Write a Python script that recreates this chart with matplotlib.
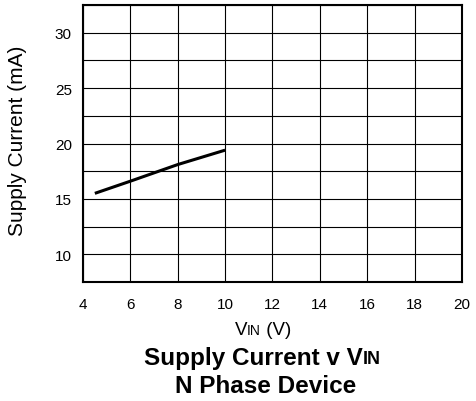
import matplotlib
matplotlib.use("Agg")
import matplotlib.pyplot as plt
import numpy as np
from matplotlib.offsetbox import TextArea, HPacker, AnchoredOffsetbox

vin = [4.5, 6, 8, 10]
current = [15.5, 16.6, 18.1, 19.4]
xticks = [4, 6, 8, 10, 12, 14, 16, 18, 20]
yticks = [10, 15, 20, 25, 30]

plt.rcParams['font.family'] = ['Liberation Sans', 'DejaVu Sans']

W, H = 477, 402
fig = plt.figure(figsize=(4.77, 4.02), dpi=100)
ax = fig.add_axes([83/W, 1 - 283/H, (462-83)/W, (283-6)/H])
ax.plot(vin, current, color='black', lw=2.2, solid_capstyle='butt')
ax.set_xlim(4, 20)
ax.set_ylim(7.5, 32.5)
ax.set_xticks(xticks)
ax.set_yticks(yticks)
ax.set_yticks(np.arange(7.5, 32.6, 2.5), minor=True)
ax.grid(True, which='both', color='black', lw=0.8)
ax.tick_params(which='both', length=0, labelsize=11)
ax.tick_params(axis='x', pad=11)
ax.tick_params(axis='y', pad=8)
for s in ax.spines.values():
    s.set_linewidth(1.5)
fig.text(18/W, 1 - 141/H, 'Supply Current (mA)', fontsize=15, rotation=90, ha='center', va='center')

def mixed(parts, xc, y, bold=False):
    areas = [TextArea(t, textprops=dict(fontsize=fs, fontweight='bold' if bold else 'normal', color='black'))
             for t, fs in parts]
    box = HPacker(children=areas, align='baseline', pad=0, sep=0)
    ab = AnchoredOffsetbox(loc='center', child=box, frameon=False,
                           bbox_to_anchor=(xc/W, y), bbox_transform=fig.transFigure, pad=0, borderpad=0)
    fig.add_artist(ab)

mixed([('V', 13.5), ('IN', 10), (' (V)', 13.5)], 263, 1 - 331/H)
mixed([('Supply Current v V', 17.5), ('IN', 13)], 262, 1 - 358/H, bold=True)
fig.text(266/W, 1 - 387/H, 'N Phase Device', fontsize=17.5, fontweight='bold', ha='center', va='center')

fig.savefig('out.png', dpi=100)
